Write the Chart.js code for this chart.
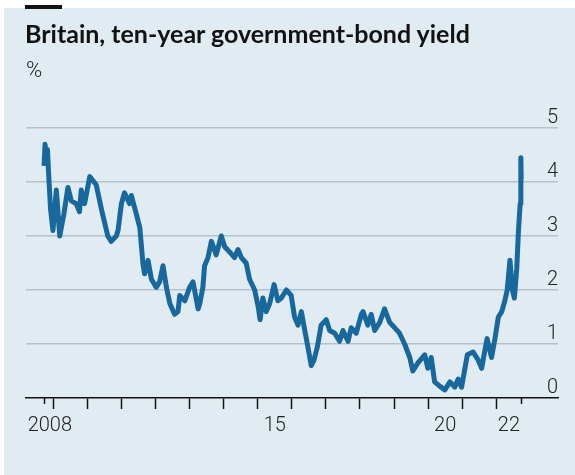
<!DOCTYPE html>
<html>
<head>
<meta charset="utf-8">
<script src="https://cdn.jsdelivr.net/npm/chart.js@4.4.1/dist/chart.umd.min.js"></script>
<style>
  html, body { margin: 0; padding: 0; background: #fff; }
  .frame { position: relative; width: 575px; height: 475px; overflow: hidden; }
  .panel { position: absolute; left: 4px; top: 8px; right: 0; bottom: 0; background: #e1ebf2; }
  .tag { position: absolute; left: 25px; top: 5px; width: 37px; height: 4px; background: #121212; }
  .title { position: absolute; left: 25px; top: 18px; font: 700 25px Lato, sans-serif; line-height: 1.2; color: #121212; white-space: nowrap; }
  .unit { position: absolute; left: 26px; top: 57px; font: 300 22px Roboto, sans-serif; line-height: 1.2; color: #222; }
  canvas { position: absolute; left: 0; top: 0; }
</style>
</head>
<body>
<div class="frame">
  <div class="panel"></div>
  <div class="tag"></div>
  <canvas id="yieldChart" width="575" height="475"></canvas>
  <div class="title">Britain, ten-year government-bond yield</div>
  <div class="unit">%</div>
</div>
<script>
// decimal years
const dates = [
    2008.73, 2008.76, 2008.80, 2008.83, 2008.86, 2008.92, 2008.99, 2009.09, 2009.19, 2009.31,
    2009.43, 2009.53, 2009.67, 2009.77, 2009.82, 2009.92, 2010.07, 2010.26, 2010.43, 2010.60,
    2010.70, 2010.85, 2010.90, 2011.00, 2011.09, 2011.24, 2011.29, 2011.44, 2011.54, 2011.63,
    2011.68, 2011.78, 2011.88, 2012.02, 2012.12, 2012.22, 2012.32, 2012.42, 2012.56, 2012.66,
    2012.71, 2012.86, 2013.00, 2013.10, 2013.25, 2013.30, 2013.39, 2013.44, 2013.54, 2013.64,
    2013.78, 2013.93, 2014.03, 2014.18, 2014.32, 2014.42, 2014.52, 2014.66, 2014.76, 2014.91,
    2015.01, 2015.07, 2015.15, 2015.25, 2015.35, 2015.48, 2015.59, 2015.69, 2015.84, 2015.98,
    2016.08, 2016.18, 2016.28, 2016.38, 2016.47, 2016.57, 2016.65, 2016.75, 2016.86, 2017.01,
    2017.11, 2017.26, 2017.40, 2017.50, 2017.65, 2017.74, 2017.89, 2018.04, 2018.09, 2018.23,
    2018.33, 2018.43, 2018.58, 2018.72, 2018.87, 2019.02, 2019.16, 2019.31, 2019.46, 2019.55,
    2019.70, 2019.90, 2019.99, 2020.09, 2020.19, 2020.34, 2020.49, 2020.64, 2020.78, 2020.88,
    2020.98, 2021.08, 2021.15, 2021.32, 2021.47, 2021.57, 2021.67, 2021.73, 2021.86, 2021.96,
    2022.06, 2022.16, 2022.25, 2022.32, 2022.40, 2022.47, 2022.53, 2022.60, 2022.65, 2022.70,
    2022.72, 2022.73,
];
const yields = [
    4.30, 4.70, 4.35, 4.60, 4.20, 3.50, 3.10, 3.85, 3.00, 3.40,
    3.90, 3.65, 3.60, 3.45, 3.85, 3.60, 4.10, 3.95, 3.45, 3.00,
    2.90, 3.00, 3.10, 3.60, 3.80, 3.60, 3.75, 3.40, 3.15, 2.50,
    2.30, 2.55, 2.20, 2.05, 2.15, 2.45, 2.05, 1.75, 1.55, 1.60,
    1.90, 1.80, 2.05, 2.15, 1.65, 1.75, 2.05, 2.45, 2.60, 2.90,
    2.65, 3.00, 2.80, 2.70, 2.60, 2.75, 2.60, 2.50, 2.20, 2.00,
    1.70, 1.45, 1.85, 1.60, 1.75, 2.10, 1.80, 1.85, 2.00, 1.90,
    1.50, 1.35, 1.60, 1.25, 0.95, 0.60, 0.70, 0.95, 1.35, 1.45,
    1.25, 1.20, 1.05, 1.25, 1.05, 1.30, 1.20, 1.55, 1.60, 1.35,
    1.55, 1.25, 1.40, 1.65, 1.40, 1.30, 1.20, 1.00, 0.75, 0.50,
    0.65, 0.80, 0.55, 0.75, 0.30, 0.22, 0.15, 0.30, 0.20, 0.35,
    0.20, 0.55, 0.80, 0.85, 0.70, 0.55, 0.90, 1.10, 0.75, 1.10,
    1.50, 1.60, 1.80, 2.00, 2.55, 2.00, 1.85, 2.40, 3.10, 3.60,
    4.45, 4.05,
];

const yTicks = [0, 1, 2, 3, 4, 5];
const yearTicks = [2009, 2010, 2011, 2012, 2013, 2014, 2015, 2016, 2017, 2018, 2019, 2020, 2021, 2022];
const yearLabels = ['2008', '15', '20', '22'];
const yearLabelAt = [2008.9, 2015.5, 2020.5, 2022.37];

const ink = '#121212';
const tickFont = { family: 'Roboto, sans-serif', size: 20, weight: 300 };

// short marks where the series starts and stops
const edgeTicks = {
    id: 'edgeTicks',
    afterDraw(chart) {
        const { ctx } = chart;
        const x = chart.scales.x;
        ctx.save();
        ctx.strokeStyle = ink;
        ctx.lineWidth = 1.5;
        [dates[0], dates[dates.length - 1]].forEach((v) => {
            const px = Math.round(x.getPixelForValue(v)) + 0.5;
            ctx.beginPath();
            ctx.moveTo(px, x.top);
            ctx.lineTo(px, x.top + 6);
            ctx.stroke();
        });
        ctx.restore();
    },
};

new Chart(document.getElementById('yieldChart'), {
    type: 'line',
    data: {
        datasets: [{
            data: dates.map((d, i) => ({ x: d, y: yields[i] })),
            borderColor: '#17689d',
            borderWidth: 5,
            borderJoinStyle: 'round',
            pointRadius: 0,
            tension: 0,
        }],
    },
    options: {
        responsive: false,
        animation: false,
        events: [],
        layout: { padding: { top: 128, left: 26, right: 17, bottom: 0 } },
        plugins: { legend: { display: false }, tooltip: { enabled: false } },
        scales: {
            x: {
                type: 'linear',
                min: 2008.2,
                max: 2023.81,
                afterBuildTicks: (scale) => {
                    scale.ticks = [...yearTicks, ...yearLabelAt].sort((a, b) => a - b).map((v) => ({ value: v }));
                },
                afterFit: (scale) => { scale.height = 77; },
                grid: {
                    drawOnChartArea: false,
                    tickLength: 11,
                    tickWidth: 1.5,
                    tickColor: (c) => (yearTicks.includes(c.tick.value) ? ink : 'rgba(0,0,0,0)'),
                },
                border: { color: ink, width: 1.5 },
                ticks: {
                    autoSkip: false,
                    maxRotation: 0,
                    padding: 5,
                    color: '#222',
                    font: tickFont,
                    callback: (v) => {
                        const i = yearLabelAt.indexOf(v);
                        return i >= 0 ? yearLabels[i] : '';
                    },
                },
            },
            y: {
                position: 'right',
                min: 0,
                max: 5,
                afterBuildTicks: (scale) => { scale.ticks = yTicks.map((v) => ({ value: v })); },
                afterFit: (scale) => { scale.width = 0; },
                grid: {
                    color: (c) => (c.tick.value === 0 ? 'rgba(0,0,0,0)' : '#b7c1c8'),
                    lineWidth: 1.5,
                    drawTicks: false,
                },
                border: { display: false },
                ticks: { mirror: true, padding: 0, labelOffset: -10, color: '#222', font: tickFont },
            },
        },
    },
    plugins: [edgeTicks],
});
</script>
</body>
</html>
